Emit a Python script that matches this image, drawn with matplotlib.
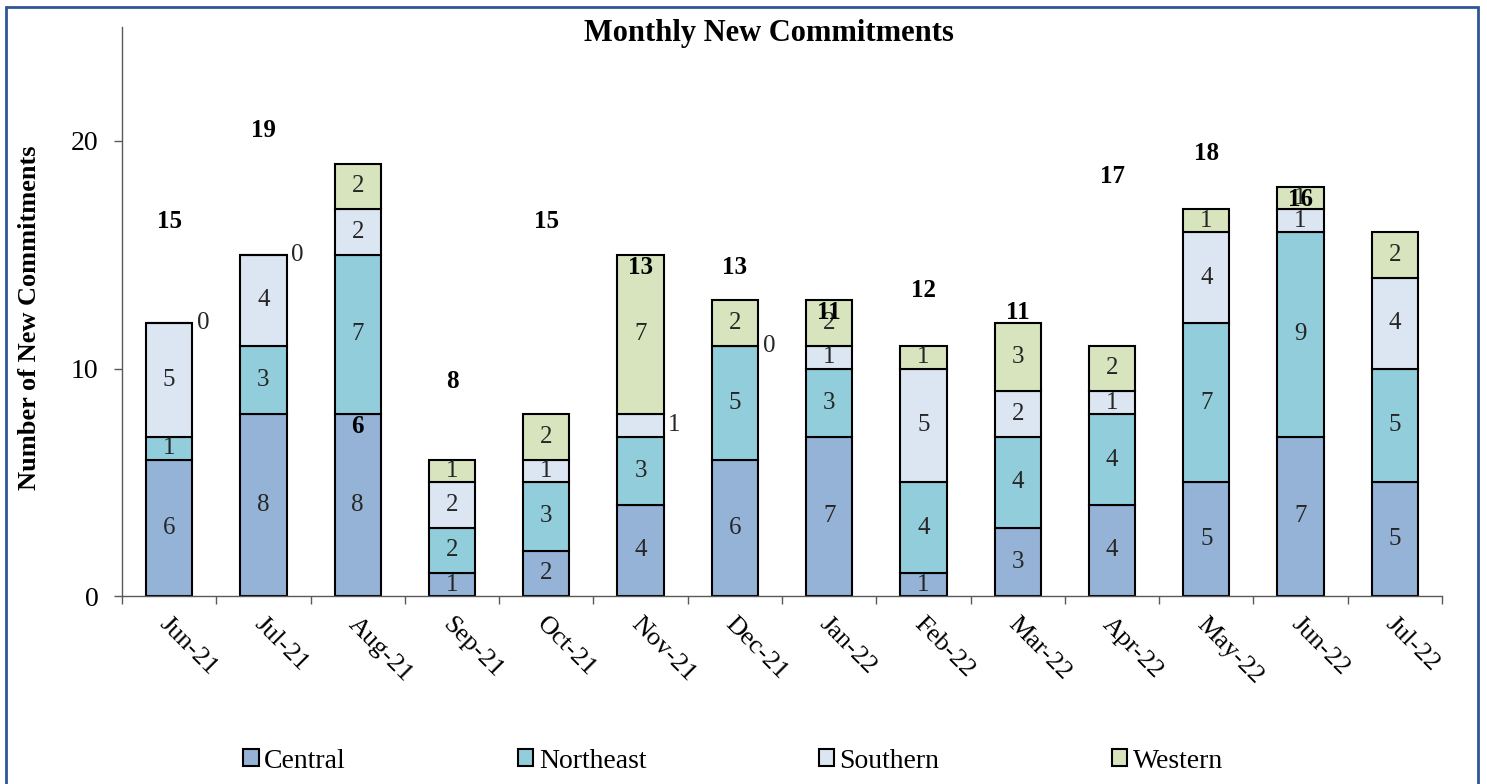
import matplotlib
matplotlib.use("Agg")
import matplotlib.pyplot as plt
import matplotlib.transforms as mtransforms
import numpy as np
from matplotlib.patches import Rectangle

plt.rcParams['font.family'] = ['Liberation Serif', 'DejaVu Serif']

months = ["Jun-21", "Jul-21", "Aug-21", "Sep-21", "Oct-21", "Nov-21", "Dec-21",
          "Jan-22", "Feb-22", "Mar-22", "Apr-22", "May-22", "Jun-22", "Jul-22"]
central = [6, 8, 8, 1, 2, 4, 6, 7, 1, 3, 4, 5, 7, 5]
northeast = [1, 3, 7, 2, 3, 3, 5, 3, 4, 4, 4, 7, 9, 5]
southern = [5, 4, 2, 2, 1, 1, 0, 1, 5, 2, 1, 4, 1, 4]
western = [0, 0, 2, 1, 2, 7, 2, 2, 1, 3, 2, 1, 1, 2]
total_labels = [15, 19, 6, 8, 15, 13, 13, 11, 12, 11, 17, 18, 16, None]
# (month index, series index) of segment labels drawn beside the bar
outside_labels = [(0, 3), (1, 3), (5, 2), (6, 2)]

series_names = ["Central", "Northeast", "Southern", "Western"]
series_vals = [central, northeast, southern, western]
colors = ["#95B3D7", "#92CDDC", "#DCE6F2", "#D7E4BD"]

W, H = 1487, 784
fig = plt.figure(figsize=(W / 100, H / 100), dpi=100)
ax = fig.add_axes([122 / W, 1 - 596 / H, (1442 - 122) / W, (596 - 27.25) / H])

x = np.arange(len(months))
bottom = np.zeros(len(months))
handles = []
for si, (name, vals, col) in enumerate(zip(series_names, series_vals, colors)):
    vals = np.array(vals, dtype=float)
    bars = ax.bar(x, vals, 0.49, bottom=bottom, color=col, edgecolor="black",
                  linewidth=1.5, label=name, zorder=2)
    handles.append(bars)
    for i in range(len(months)):
        yc = bottom[i] + vals[i] / 2
        if (i, si) in outside_labels:
            ax.text(x[i] + 0.36, yc, f"{int(vals[i])}", ha="center", va="center",
                    fontsize=18, color="#262626", zorder=3)
        elif vals[i] > 0:
            ax.text(x[i], yc, f"{int(vals[i])}", ha="center", va="center",
                    fontsize=18, color="#262626", zorder=3)
    bottom = bottom + vals

for i, t in enumerate(total_labels):
    if t is not None:
        ax.text(x[i], t + 1.45, f"{t}", ha="center", va="center",
                fontsize=18, fontweight="bold", color="black", zorder=4)

ax.set_xlim(-0.5, len(months) - 0.5)
ax.set_ylim(0, 25)
ax.set_yticks([0, 10, 20])
ax.tick_params(axis="y", direction="out", length=6, width=1, color="#595959",
               labelsize=20, pad=11)
ax.set_xticks(x)
ax.set_xticklabels(months, rotation=-45, ha="left", va="center",
                   rotation_mode="anchor", fontsize=19)
ax.tick_params(axis="x", which="major", length=0, pad=18)
shift = mtransforms.ScaledTranslation(-0.06, 0, fig.dpi_scale_trans)
for lab in ax.get_xticklabels():
    lab.set_transform(lab.get_transform() + shift)
ax.set_xticks(np.arange(-0.5, len(months), 1.0), minor=True)
ax.tick_params(axis="x", which="minor", direction="out", length=6, width=1,
               color="#595959")
for s in ["top", "right"]:
    ax.spines[s].set_visible(False)
for s in ["left", "bottom"]:
    ax.spines[s].set_color("#595959")
    ax.spines[s].set_linewidth(1)

fig.text(30 / W, 1 - 318 / H, "Number of New Commitments", rotation=90,
         ha="center", va="center", fontsize=19, fontweight="bold")
fig.text(769 / W, 1 - 34 / H, "Monthly New Commitments", ha="center",
         va="center", fontsize=22, fontweight="bold")

fig.legend(handles=handles, labels=series_names, loc="center",
           bbox_to_anchor=(733 / W, 1 - 761 / H), ncol=4, frameon=False,
           fontsize=20, handlelength=0.55, handleheight=0.55, handletextpad=0.2,
           columnspacing=6.2)

fig.patches.append(Rectangle((6 / W, -0.2), (1478 - 6) / W, 1.2 - 7 / H,
                             transform=fig.transFigure, fill=False,
                             edgecolor="#2F5597", linewidth=2, zorder=10))

fig.savefig("out.png", dpi=100)
